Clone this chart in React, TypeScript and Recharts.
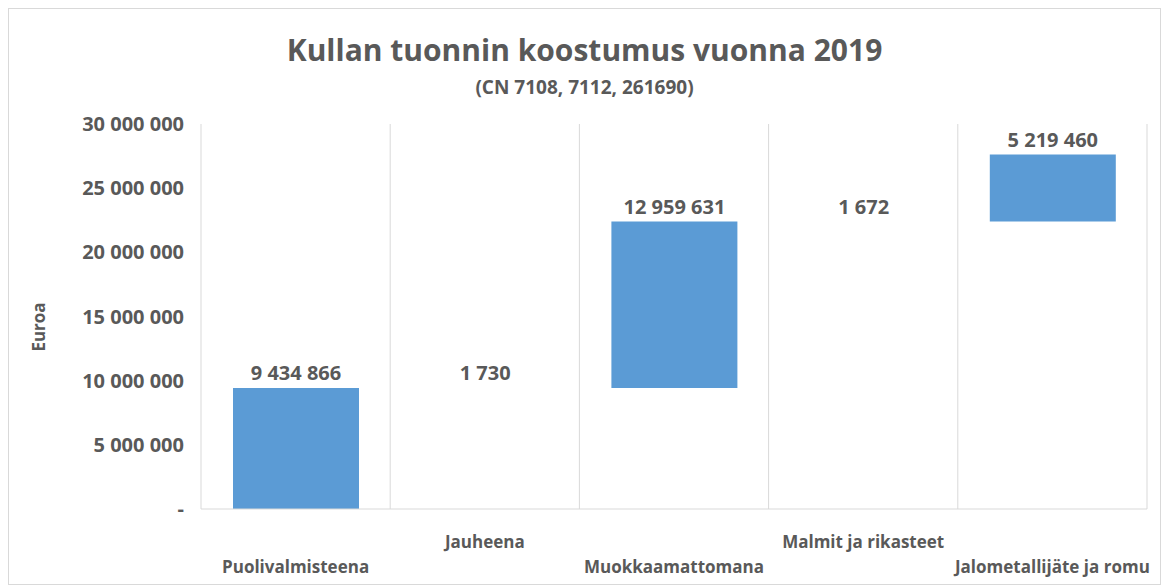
import { BarChart, Bar, XAxis, YAxis, CartesianGrid, LabelList } from 'recharts'

const categories = ['Puolivalmisteena', 'Jauheena', 'Muokkaamattomana', 'Malmit ja rikasteet', 'Jalometallijäte ja romu']
const values = [9434866, 1730, 12959631, 1672, 5219460]
const yTicks = [0, 5000000, 10000000, 15000000, 20000000, 25000000, 30000000]

const W = 1153
const H = 577
const FONT = '"Open Sans", "Noto Sans", sans-serif'
const TEXT = '#595959'

// waterfall: invisible base + visible step
let running = 0
const chartData = categories.map((name, i) => {
  const row = { name, base: running, value: values[i] }
  running += values[i]
  return row
})

const fmt = (n: number) => (n === 0 ? '-' : String(Math.round(n)).replace(/\B(?=(\d{3})+(?!\d))/g, ' '))

function CategoryTick(props: any) {
  const { x, y, payload, index } = props
  const dy = index % 2 === 0 ? 56 : 31
  return (
    <text x={x} y={y} dy={dy} textAnchor="middle" fill={TEXT} fontSize={17} fontWeight={700} fontFamily={FONT}>
      {payload.value}
    </text>
  )
}

function ValueLabel(props: any) {
  const { x, y, width, value } = props
  return (
    <text x={x + width / 2} y={y - 8} textAnchor="middle" fill={TEXT} fontSize={20} fontWeight={700} fontFamily={FONT}>
      {fmt(Number(value))}
    </text>
  )
}

export default function App() {
  return (
    <div style={{ position: 'relative', width: W, height: H, border: '1px solid #D9D9D9', boxSizing: 'border-box', background: '#fff', fontFamily: FONT }}>
      <div style={{ position: 'absolute', top: 20, left: 0, width: '100%', textAlign: 'center', fontSize: 30, fontWeight: 700, color: TEXT }}>
        Kullan tuonnin koostumus vuonna 2019
      </div>
      <div style={{ position: 'absolute', top: 65, left: 0, width: '100%', textAlign: 'center', fontSize: 19, fontWeight: 700, color: TEXT }}>
        (CN 7108, 7112, 261690)
      </div>
      <div style={{ position: 'absolute', left: 29, top: 318, transform: 'translate(-50%, -50%) rotate(-90deg)', fontSize: 17, fontWeight: 700, color: TEXT }}>
        Euroa
      </div>
      <BarChart
        width={W}
        height={H}
        data={chartData}
        margin={{ top: 115, right: 15, left: 0, bottom: 0 }}
        barSize={126}
      >
        <CartesianGrid
          horizontal={false}
          stroke="#D9D9D9"
          verticalCoordinatesGenerator={({ offset }: any) =>
            categories.map((_, i) => offset.left + (offset.width * i) / categories.length).concat(offset.left + offset.width)
          }
        />
        <XAxis
          dataKey="name"
          interval={0}
          height={77}
          tickLine={false}
          axisLine={{ stroke: '#D9D9D9' }}
          tick={<CategoryTick />}
        />
        <YAxis
          width={192}
          domain={[0, 30000000]}
          ticks={yTicks}
          tickFormatter={fmt}
          axisLine={false}
          tickLine={false}
          tickMargin={11}
          tick={{ fill: TEXT, fontSize: 20, fontWeight: 700, fontFamily: FONT }}
        />
        <Bar dataKey="base" stackId="w" fill="transparent" isAnimationActive={false} />
        <Bar dataKey="value" stackId="w" fill="#5B9BD5" isAnimationActive={false}>
          <LabelList dataKey="value" content={<ValueLabel />} />
        </Bar>
      </BarChart>
    </div>
  )
}
